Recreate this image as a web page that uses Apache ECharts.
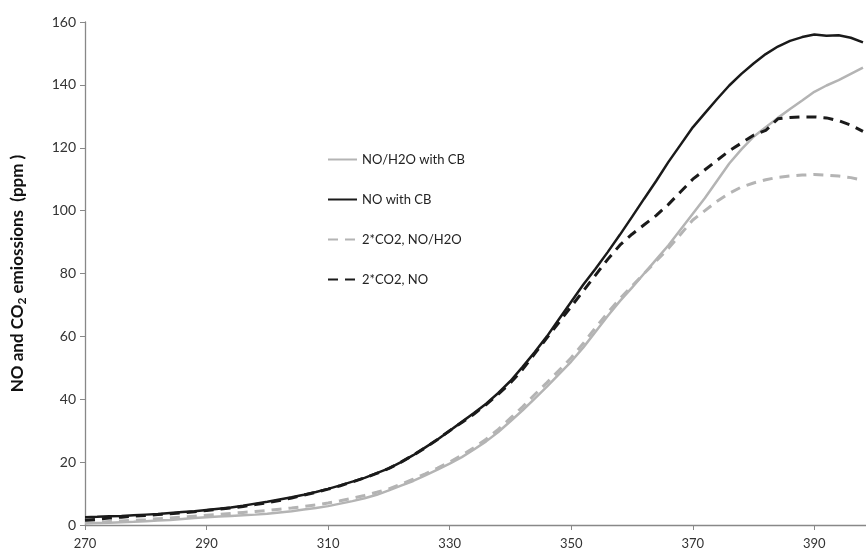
<!DOCTYPE html>
<html lang="en">

<head>
    <meta charset="UTF-8">
    <title>NO and CO2 emissions</title>
</head>
<style>
    * {
        padding: 0;
        margin: 0;
    }

    .box {
        width: 866px;
        height: 555px;
    }
</style>

<body>
    <div class="box" id='myChart'></div>
    <script src="https://cdn.jsdelivr.net/npm/echarts@6/dist/echarts.min.js"></script>
    <script>
        // temperature axis (step 2)
        let temps = [270, 272, 274, 276, 278, 280, 282, 284, 286, 288, 290, 292, 294, 296, 298, 300, 302, 304, 306, 308,
            310, 312, 314, 316, 318, 320, 322, 324, 326, 328, 330, 332, 334, 336, 338, 340, 342, 344, 346, 348,
            350, 352, 354, 356, 358, 360, 362, 364, 366, 368, 370, 372, 374, 376, 378, 380, 382, 384, 386, 388,
            390, 392, 394, 396, 398];
        let xTicks = [270, 290, 310, 330, 350, 370, 390];

        let noH2oCB = [0.5, 0.6, 0.7, 0.9, 1.0, 1.2, 1.4, 1.6, 1.9, 2.2, 2.5, 2.7, 2.9, 3.1, 3.3, 3.6, 4.0, 4.4, 4.9, 5.4,
            6.0, 6.8, 7.6, 8.5, 9.6, 11.0, 12.5, 14.0, 15.8, 17.6, 19.5, 21.6, 24.0, 26.6, 29.6, 33.0, 36.5, 40.2, 44.0, 48.0,
            52.0, 56.5, 61.5, 66.5, 71.2, 75.5, 80.0, 84.5, 89.0, 94.0, 99.0, 104.0, 109.5, 115.0, 119.5, 123.5, 126.5, 129.5, 132.3, 135.0,
            137.8, 139.8, 141.5, 143.5, 145.5];
        let noCB = [2.5, 2.6, 2.8, 2.9, 3.1, 3.3, 3.5, 3.8, 4.1, 4.4, 4.8, 5.2, 5.6, 6.1, 6.8, 7.4, 8.1, 8.8, 9.6, 10.5,
            11.5, 12.6, 13.8, 15.0, 16.5, 18.0, 20.0, 22.2, 24.7, 27.2, 30.0, 32.8, 35.6, 38.6, 42.0, 45.8, 50.3, 55.0, 60.0, 65.5,
            71.0, 76.5, 81.5, 86.8, 92.3, 98.0, 103.8, 109.5, 115.5, 121.0, 126.5, 131.0, 135.5, 139.8, 143.5, 146.8, 149.8, 152.2, 154.0, 155.2,
            156.0, 155.6, 155.8, 155.0, 153.5];
        let co2NoH2o = [0.8, 0.9, 1.1, 1.3, 1.5, 1.7, 2.0, 2.2, 2.5, 2.8, 3.1, 3.4, 3.7, 4.0, 4.3, 4.6, 5.0, 5.4, 5.9, 6.4,
            7.0, 7.7, 8.5, 9.4, 10.4, 11.5, 13.0, 14.6, 16.3, 18.1, 20.0, 22.2, 24.6, 27.3, 30.4, 34.0, 37.6, 41.5, 45.3, 49.2,
            53.2, 57.8, 62.8, 67.5, 72.0, 76.0, 80.0, 84.0, 88.0, 92.5, 97.0, 100.0, 103.0, 105.5, 107.5, 108.8, 109.8, 110.6, 111.0, 111.3,
            111.5, 111.3, 111.0, 110.5, 109.7];
        let co2No = [1.5, 1.8, 2.2, 2.5, 2.8, 3.0, 3.3, 3.6, 3.9, 4.2, 4.6, 5.0, 5.4, 5.9, 6.5, 7.1, 7.8, 8.6, 9.5, 10.4,
            11.4, 12.5, 13.7, 15.0, 16.4, 18.0, 20.0, 22.2, 24.6, 27.2, 30.0, 32.6, 35.3, 38.3, 41.6, 45.2, 49.5, 54.5, 59.5, 64.5,
            69.5, 74.5, 79.5, 84.5, 89.0, 92.5, 95.5, 98.5, 102.0, 106.0, 110.0, 113.0, 116.0, 119.0, 121.5, 124.0, 125.5, 129.2, 129.6, 129.8,
            129.8, 129.5, 128.6, 127.2, 125.2];

        let zip = (ys) => temps.map((t, i) => [t, ys[i]]);
        let grey = '#b4b4b4';
        let dark = '#1a1a1a';
        let font = 'Lato';

        let myChart = window.echarts.init(document.getElementById('myChart'));
        let option = {
            backgroundColor: '#ffffff',
            animation: false,
            grid: {
                left: 85,
                right: 0,
                top: 22,
                bottom: 30,
                containLabel: false
            },
            legend: {
                orient: 'vertical',
                left: 322,
                top: 148,
                itemWidth: 29,
                itemHeight: 14,
                itemGap: 27,
                itemStyle: { opacity: 0 }, // line only, no marker
                textStyle: {
                    fontFamily: font,
                    fontSize: 13,
                    color: '#222'
                },
                data: ['NO/H2O with CB', 'NO with CB', '2*CO2, NO/H2O', '2*CO2, NO']
            },
            xAxis: {
                type: 'value',
                min: 270,
                max: 398.5,
                axisLine: { lineStyle: { color: '#888', width: 1.3 } },
                axisTick: { customValues: xTicks, length: 5, lineStyle: { color: '#888' } },
                axisLabel: {
                    customValues: xTicks,
                    margin: 12,
                    fontFamily: font,
                    fontSize: 13,
                    color: '#333'
                },
                splitLine: { show: false }
            },
            yAxis: {
                type: 'value',
                min: 0,
                max: 160,
                interval: 20,
                name: 'NO and CO{sub|2} emiossions  (ppm )',
                nameLocation: 'middle',
                nameGap: 57,
                nameTextStyle: {
                    fontFamily: font,
                    fontSize: 17,
                    fontWeight: 'bold',
                    color: '#111',
                    rich: {
                        sub: {
                            fontFamily: font,
                            fontSize: 12,
                            fontWeight: 'bold',
                            color: '#111',
                            padding: [9, 0, 0, 0]
                        }
                    }
                },
                axisLine: { show: true, lineStyle: { color: '#888', width: 1.3 } },
                axisTick: { show: true, length: 5, lineStyle: { color: '#888' } },
                axisLabel: {
                    margin: 9,
                    fontFamily: font,
                    fontSize: 14,
                    color: '#333'
                },
                splitLine: { show: false }
            },
            series: [{
                    name: 'NO/H2O with CB',
                    type: 'line',
                    symbol: 'none',
                    lineStyle: { color: grey, width: 2.5 },
                    itemStyle: { color: grey },
                    data: zip(noH2oCB)
                },
                {
                    name: 'NO with CB',
                    type: 'line',
                    symbol: 'none',
                    lineStyle: { color: dark, width: 2.5 },
                    itemStyle: { color: dark },
                    data: zip(noCB)
                },
                {
                    name: '2*CO2, NO/H2O',
                    type: 'line',
                    symbol: 'none',
                    lineStyle: { color: grey, width: 3, type: [10, 7] },
                    itemStyle: { color: grey },
                    data: zip(co2NoH2o)
                },
                {
                    name: '2*CO2, NO',
                    type: 'line',
                    symbol: 'none',
                    lineStyle: { color: dark, width: 3, type: [10, 7] },
                    itemStyle: { color: dark },
                    data: zip(co2No)
                }
            ]
        };
        myChart.setOption(option, true);
    </script>

</body>

</html>
